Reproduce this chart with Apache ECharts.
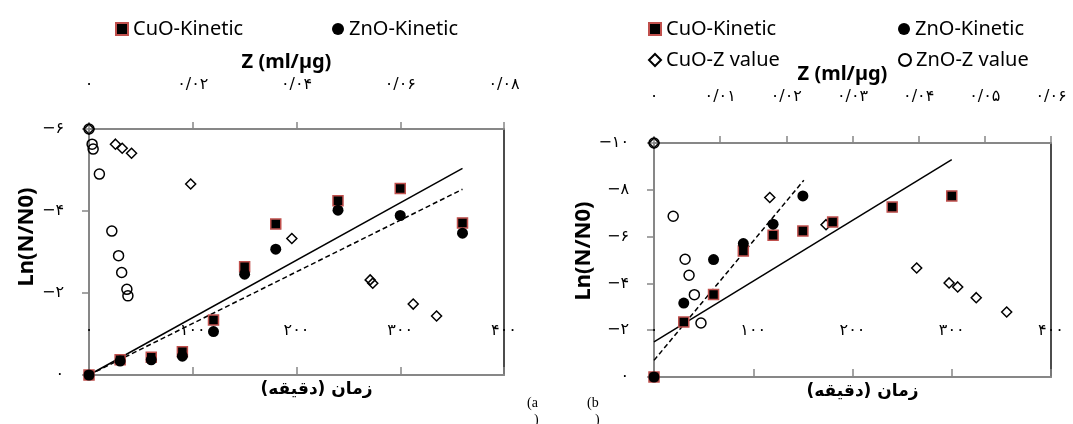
<!DOCTYPE html>
<html dir="ltr"><head><meta charset="utf-8">
<script src="https://cdn.jsdelivr.net/npm/echarts@6/dist/echarts.min.js"></script>
<style>html,body{margin:0;padding:0;background:#fff}#c{width:1073px;height:424px}</style>
</head><body><div id="c"></div>
<script>
// ---------- Panel (a) ----------
const timeA     = [0, 30, 60, 90, 120, 150, 180, 240, 300, 360];
const cuoKinA   = [0, -0.37, -0.43, -0.57, -1.34, -2.64, -3.68, -4.25, -4.55, -3.71];
const znoKinA   = [0, -0.34, -0.37, -0.46, -1.06, -2.46, -3.07, -4.02, -3.89, -3.46];
const cuoZA_z   = [0, 0.0051, 0.0064, 0.0082, 0.0196, 0.0391, 0.0542, 0.0547, 0.0625, 0.0670];
const cuoZA_y   = [-6, -5.63, -5.53, -5.41, -4.66, -3.33, -2.32, -2.24, -1.73, -1.44];
const znoZA_z   = [0, 0.0006, 0.0008, 0.0020, 0.0044, 0.0057, 0.0063, 0.0073, 0.0075];
const znoZA_y   = [-6, -5.63, -5.51, -4.90, -3.51, -2.91, -2.50, -2.09, -1.93];
const trendCuoA_t = [0, 360], trendCuoA_y = [0, -5.04];
const trendZnoA_t = [0, 360], trendZnoA_y = [0, -4.53];
// ---------- Panel (b) ----------
const timeB_cuo = [0, 30, 60, 90, 120, 150, 180, 240, 300];
const cuoKinB   = [0, -2.35, -3.53, -5.38, -6.06, -6.24, -6.62, -7.26, -7.74];
const timeB_zno = [0, 30, 60, 90, 120, 150];
const znoKinB   = [0, -3.16, -5.02, -5.70, -6.53, -7.74];
const cuoZB_z   = [0, 0.0175, 0.0260, 0.0397, 0.0446, 0.0459, 0.0487, 0.0533];
const cuoZB_y   = [-10, -7.67, -6.51, -4.66, -4.02, -3.85, -3.39, -2.78];
const znoZB_z   = [0, 0.0029, 0.0047, 0.0053, 0.0061, 0.0071];
const znoZB_y   = [-10, -6.87, -5.03, -4.35, -3.52, -2.31];
const trendCuoB_t = [0, 300], trendCuoB_y = [-1.50, -9.29];
const trendZnoB_t = [0, 151], trendZnoB_y = [-0.71, -8.41];

const xTitle = '\u200Fزمان (دقیقه)\u200F';
const zTitle = 'Z (ml/µg)';
const yTitle = 'Ln(N/N0)';

const FA = '۰۱۲۳۴۵۶۷۸۹';
function fa(s){ return String(s).replace(/[0-9]/g, d => FA[+d]).replace('.', '/').replace('-', '−'); }
const fmtInt = v => fa(Math.round(v));
const fmtZ = v => v === 0 ? fa(0) : fa(v.toFixed(2));

const GRAY = '#878787';
const lblFont = {fontFamily: 'DejaVu Sans', fontSize: 16, color: '#000'};
const zip = (a, b) => a.map((v, i) => [v, b[i]]);

function bottomAxis(grid, margin, gap, pad){
  return {gridIndex: grid, type: 'value', position: 'bottom', min: 0, max: 400, interval: 100,
    axisLine: {onZero: false, lineStyle: {color: GRAY, width: 2}},
    axisTick: {inside: true, length: 8, lineStyle: {color: GRAY, width: 1.5}},
    axisLabel: {inside: true, margin: margin, formatter: fmtInt, showMinLabel: true, showMaxLabel: true, ...lblFont},
    splitLine: {show: false},
    name: xTitle, nameLocation: 'middle', nameGap: gap,
    nameTextStyle: {fontFamily: 'DejaVu Sans', fontWeight: 'bold', fontSize: 17, color: '#000', padding: pad}};
}
function topAxis(grid, max, interval, margin, gap){
  return {gridIndex: grid, type: 'value', position: 'top', min: 0, max: max, interval: interval,
    axisLine: {onZero: false, lineStyle: {color: GRAY, width: 2}},
    axisTick: {length: 7, lineStyle: {color: GRAY, width: 1.5}},
    axisLabel: {margin: margin, formatter: fmtZ, showMinLabel: true, showMaxLabel: true, ...lblFont},
    splitLine: {show: false},
    name: zTitle, nameLocation: 'middle', nameGap: gap,
    nameTextStyle: {fontFamily: 'Noto Sans', fontWeight: 'bold', fontSize: 20, color: '#000', padding: [0, 20, 0, 0]}};
}
function leftAxis(grid, min, gap, pad){
  return {gridIndex: grid, type: 'value', position: 'left', inverse: true, min: min, max: 0, interval: 2,
    axisLine: {onZero: false, lineStyle: {color: GRAY, width: 2}},
    axisTick: {length: 7, lineStyle: {color: GRAY, width: 1.5}},
    axisLabel: {margin: 25, formatter: fmtInt, showMinLabel: true, showMaxLabel: true, ...lblFont},
    splitLine: {show: false},
    name: yTitle, nameLocation: 'middle', nameGap: gap, nameRotate: 90,
    nameTextStyle: {fontFamily: 'Noto Sans', fontWeight: 'bold', fontSize: 22, color: '#000', padding: pad}};
}
function rightAxis(grid, min){
  return {gridIndex: grid, type: 'value', position: 'right', inverse: true, min: min, max: 0, interval: 2,
    axisLine: {onZero: false, lineStyle: {color: '#111', width: 1.5}},
    axisTick: {show: false}, axisLabel: {show: false}, splitLine: {show: false}};
}

const sqStyle  = {color: '#000', borderColor: '#c0504d', borderWidth: 1.5, opacity: 1};
const dotStyle = {color: '#000', opacity: 1};
const openStyle = {color: 'rgba(255,255,255,0)', borderColor: '#000', borderWidth: 1.5, opacity: 1};

function scatter(name, x, y, data, symbol, size, style, z){
  return {type: 'scatter', name: name, xAxisIndex: x, yAxisIndex: y, data: data,
    symbol: symbol, symbolSize: size, itemStyle: style, z: z, silent: true};
}
function trend(x, y, data, dashed){
  return {type: 'line', xAxisIndex: x, yAxisIndex: y, data: data, symbol: 'none', silent: true, z: 1,
    lineStyle: {color: '#000', width: 1.5, type: dashed ? [5, 3] : 'solid'}};
}
function legend(name, left, top){
  return {data: [name], left: left, top: top, padding: 0, itemWidth: 12, itemHeight: 12, selectedMode: false,
    textStyle: {fontFamily: 'Noto Sans', fontSize: 20, color: '#000'}};
}

const option = {
  animation: false,
  backgroundColor: '#fff',
  grid: [
    {left: 89, top: 129, width: 415, height: 246},
    {left: 654, top: 143, width: 397, height: 234}
  ],
  xAxis: [
    bottomAxis(0, 36, 5, [0, 0, 0, 40]),
    topAxis(0, 0.08, 0.02, 36, 47),
    bottomAxis(1, 38, 3, [0, 0, 0, 20]),
    topAxis(1, 0.06, 0.01, 38, 45)
  ],
  yAxis: [
    leftAxis(0, -6, 51, [0, 0, 0, 30]),
    rightAxis(0, -6),
    leftAxis(1, -10, 51, [0, 0, 0, 18]),
    rightAxis(1, -10)
  ],
  legend: [
    legend('CuO-Kinetic', 115, 19),
    legend('ZnO-Kinetic', 332, 19),
    legend('CuO-Z value', 648, 50),
    legend('ZnO-Z value', 898, 50),
    legend('CuO-Kinetic', 648, 19),
    legend('ZnO-Kinetic', 898, 19)
  ],
  graphic: [
    {type: 'text', left: 527, top: 396, style: {text: '(a', font: '14px "Liberation Serif"', fill: '#000'}},
    {type: 'text', left: 534, top: 413, style: {text: ')', font: '14px "Liberation Serif"', fill: '#000'}},
    {type: 'text', left: 587, top: 396, style: {text: '(b', font: '14px "Liberation Serif"', fill: '#000'}},
    {type: 'text', left: 595, top: 413, style: {text: ')', font: '14px "Liberation Serif"', fill: '#000'}}
  ],
  series: [
    trend(0, 0, zip(trendCuoA_t, trendCuoA_y), false),
    trend(0, 0, zip(trendZnoA_t, trendZnoA_y), true),
    trend(2, 2, zip(trendCuoB_t, trendCuoB_y), false),
    trend(2, 2, zip(trendZnoB_t, trendZnoB_y), true),
    scatter('CuO-Z value', 1, 0, zip(cuoZA_z, cuoZA_y), 'diamond', 10, openStyle, 3),
    scatter('ZnO-Z value', 1, 0, zip(znoZA_z, znoZA_y), 'circle', 10, openStyle, 3),
    scatter('CuO-Kinetic', 0, 0, zip(timeA, cuoKinA), 'rect', 10, sqStyle, 4),
    scatter('ZnO-Kinetic', 0, 0, zip(timeA, znoKinA), 'circle', 11, dotStyle, 5),
    scatter('CuO-Z value', 3, 2, zip(cuoZB_z, cuoZB_y), 'diamond', 10, openStyle, 3),
    scatter('ZnO-Z value', 3, 2, zip(znoZB_z, znoZB_y), 'circle', 10, openStyle, 3),
    scatter('CuO-Kinetic', 2, 2, zip(timeB_cuo, cuoKinB), 'rect', 10, sqStyle, 4),
    scatter('ZnO-Kinetic', 2, 2, zip(timeB_zno, znoKinB), 'circle', 11, dotStyle, 5)
  ]
};
const chart = echarts.init(document.getElementById('c'), null, {renderer: 'canvas'});
chart.setOption(option);
</script></body></html>
